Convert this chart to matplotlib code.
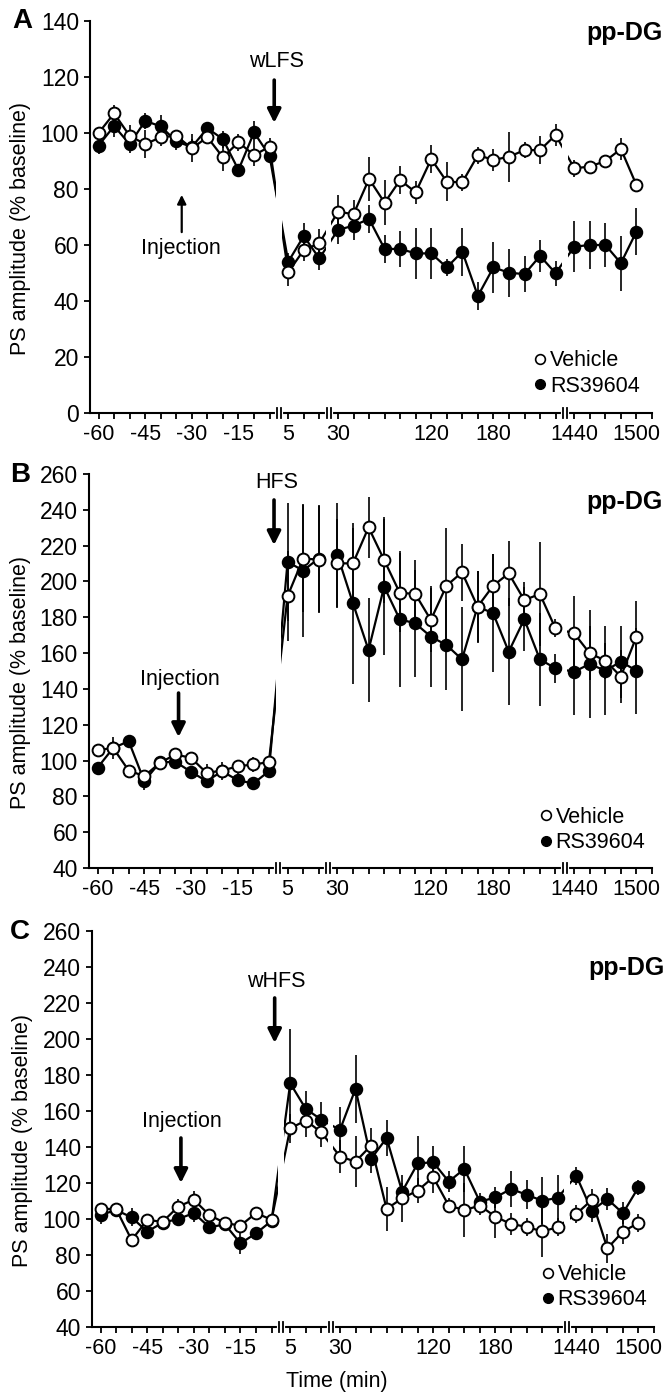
#!/usr/bin/env python3
"""PS amplitude time courses (pp-DG), three stimulation protocols, broken time axis."""
import matplotlib
matplotlib.use("Agg")
import matplotlib.pyplot as plt
import matplotlib.transforms as mtransforms
import numpy as np
from matplotlib.lines import Line2D

plt.rcParams.update({"font.family": ["Liberation Sans", "DejaVu Sans"],
                     "font.size": 15.5})

# sampling times (min)
TIMES = [-60, -55, -50, -45, -40, -35, -30, -25, -20, -15, -10, -5,
         5, 10, 15,
         30, 45, 60, 75, 90, 105, 120, 135, 150, 165, 180, 195, 210, 225, 240,
         1440, 1455, 1470, 1485, 1500]

TICK_LABELS = {-60: "-60", -45: "-45", -30: "-30", -15: "-15", 5: "5",
               30: "30", 120: "120", 180: "180", 1440: "1440", 1500: "1500"}

# panel A: wLFS
VEH_A = [100, 107, 99, 96, 98.5, 99, 94.5, 98.5, 91.3, 96.7, 92.1, 95.1,
         50.3, 58.2, 60.6,
         71.9, 71, 83.6, 75.1, 83.2, 78.8, 90.7, 82.6, 82.4, 92.1, 90.4, 91.5,
         93.9, 93.9, 99.3,
         87.4, 88, 90, 94.3, 81.4]
VEH_A_ERR = [2, 3, 4, 5, 3, 2, 5, 2, 5, 3, 4, 3,
             5, 4, 5,
             6, 5, 8, 8, 5, 4, 5, 7, 3, 3, 4, 9, 3, 5, 4,
             3, 2, 2, 4, 1.5]
RS_A = [95.5, 102.5, 96, 104.3, 102.4, 97, 95, 101.7, 97.8, 86.8, 100.2, 91.9,
        54, 63.2, 55.2,
        65.4, 66.9, 69.3, 58.6, 58.6, 57, 57, 52, 57.6, 41.8, 52, 50.1, 49.6,
        56.1, 49.9,
        59.4, 60, 60, 53.5, 64.8]
RS_A_ERR = [3, 4, 3, 3, 4, 3, 3, 2, 3, 2, 4, 2,
            3, 4.5, 4,
            5, 5, 5, 5, 6.5, 9, 9, 3, 8.6, 5, 9, 8.6, 6.5, 5.6, 4.5,
            9, 8.6, 7.7, 9.8, 8.3]

# panel B: HFS
VEH_B = [105.8, 107, 94.4, 91.3, 98.7, 103.4, 101.5, 93.1, 94.4, 96.8, 97.8,
         99.1,
         191.8, 212.8, 212.2,
         210.1, 210.1, 230.2, 212, 193.7, 193, 178.5, 197.6, 205.1, 185.9,
         197.6, 204.5, 189.6, 193, 173.8,
         171, 159.9, 155.8, 146.9, 169.2]
VEH_B_ERR = [2, 6, 3, 3, 2, 2, 2, 5, 5, 3, 4, 3,
             25, 30, 30,
             25, 20, 17, 24, 22, 19, 18, 32, 16, 20, 18, 18, 10, 29, 5,
             21, 15, 10, 15, 20]
RS_B = [96, 107, 110.8, 88.5, 99, 99.3, 93.7, 88.5, 94, 89, 87.2, 94,
        210.9, 206.1, 212.8,
        214.8, 187.8, 161.7, 197.1, 178.9, 176.6, 169.2, 164.5, 156.5, 186,
        182.2, 160.8, 178.9, 156.5, 151.5,
        149.6, 153.9, 150.2, 155.2, 150.2]
RS_B_ERR = [2, 4, 3, 5, 2, 2, 2, 4, 3, 4, 2, 2,
            33, 37, 30,
            29, 45, 29, 38, 38, 30, 28, 25, 29, 20, 33, 30, 18, 26, 8,
            24, 30, 25, 20, 24]

# panel C: wHFS
VEH_C = [105.6, 105.6, 88.3, 99.4, 98.5, 106.9, 110.7, 102.2, 97.8, 96.3,
         103.3, 99.6,
         150.4, 154.7, 148.2,
         134.7, 131.9, 140.8, 105.6, 111.5, 115.8, 123.2, 107.4, 105, 107.4,
         101.3, 97.2, 95.7, 93.1, 95.4,
         102.8, 110.6, 83.7, 93, 97.8]
VEH_C_ERR = [3, 3, 3, 3, 2, 4, 5, 3, 2, 3, 3, 3,
             8, 9, 8,
             9, 14, 10, 12, 13, 7, 9, 4, 15, 5, 12, 6, 5, 14, 5,
             5, 6, 8, 7, 5]
RS_C = [102.2, 105, 100.9, 93, 98, 100, 103.3, 95.4, 97, 86.5, 92, 99,
        175.4, 161.2, 155.2,
        149.5, 172.3, 133.4, 145, 115.2, 130.9, 131.5, 120.8, 127.8, 109.6,
        112, 116.7, 113.5, 110.2, 111.7,
        124.1, 104.6, 111.1, 103.2, 117.6]
RS_C_ERR = [5, 4, 5, 4, 3, 4, 5, 3, 3, 6, 3, 3,
            30, 10, 10,
            13, 19, 8, 10, 5, 15, 9, 6, 13, 5, 6, 10, 8, 13, 13,
            5, 6, 6, 6, 4]

W, H = 668, 1394
BREAKS = [11.6, 14.8, 30.0]


def slot(t):
    """Map minutes onto the broken axis (one slot per sample)."""
    if t < 0:
        return (t + 60) / 5
    if t < 30:
        return 12.2 + (t - 5) / 5
    if t < 1440:
        return 15.4 + (t - 30) / 15
    return 30.6 + (t - 1440) / 15


def px_axes(fig, left, top, right, bottom):
    return fig.add_axes([left / W, 1 - bottom / H, (right - left) / W,
                         (bottom - top) / H])


def panel(ax, veh, veh_err, rs, rs_err, ylim, yticks):
    x = np.array([slot(t) for t in TIMES])
    for y, e in ((rs, rs_err), (veh, veh_err)):
        ax.errorbar(x, y, yerr=e, fmt="none", ecolor="k", elinewidth=1.2,
                    capsize=0, zorder=1.8)
    for y in (rs, veh):
        ax.plot(x, y, "-", color="k", lw=1.6, zorder=2)
    for b in BREAKS:
        ax.axvspan(b - 0.17, b + 0.17, color="white", lw=0, zorder=2.2)
    ax.plot(x, rs, "o", ms=8.5, mfc="k", mec="k", mew=1.2, zorder=3)
    ax.plot(x, veh, "o", ms=8.5, mfc="white", mec="k", mew=1.4, zorder=3.1)

    ticks = list(np.arange(-60, 0, 5)) + list(np.arange(5, 20, 5)) + \
        list(np.arange(30, 255, 15)) + list(np.arange(1440, 1530, 15))
    ax.set_xticks([slot(t) for t in ticks])
    ax.set_xticklabels([TICK_LABELS.get(int(t), "") for t in ticks])
    ax.set_xlim(-0.55, slot(1515))
    ax.set_ylim(*ylim)
    ax.set_yticks(yticks)
    for s in ("top", "right"):
        ax.spines[s].set_visible(False)
    for s in ("left", "bottom"):
        ax.spines[s].set_linewidth(1.5)
    ax.tick_params(direction="out", length=4.5, width=1.3, pad=3.5,
                   labelsize=15.5)
    ax.tick_params(axis="y", labelsize=16.5)

    trans = mtransforms.blended_transform_factory(ax.transData, ax.transAxes)
    for b in BREAKS:
        ax.plot([b - 0.13, b + 0.13], [0, 0], color="white", lw=3,
                transform=trans, clip_on=False, zorder=4)
        for dx in (-0.13, 0.13):
            ax.plot([b + dx, b + dx], [-0.013, 0.013], color="k", lw=1.3,
                    transform=trans, clip_on=False, zorder=4.1)
    ax.set_ylabel("PS amplitude (% baseline)", fontsize=15.5)


def arrow(ax, x, y0, y1, lw, ms):
    ax.annotate("", xy=(x, y1), xytext=(x, y0),
                arrowprops=dict(arrowstyle="-|>", lw=lw, color="k",
                                mutation_scale=ms, shrinkA=0, shrinkB=0),
                zorder=5)


def legend(ax, x, y):
    handles = [Line2D([], [], ls="none", marker="o", ms=7, mfc="white",
                      mec="k", mew=1.2),
               Line2D([], [], ls="none", marker="o", ms=7, mfc="k", mec="k")]
    ax.legend(handles, ["Vehicle", "RS39604"], loc="upper left",
              bbox_to_anchor=(x, y), frameon=False, borderpad=0,
              borderaxespad=0, handlelength=0.6, handletextpad=0.15,
              labelspacing=0.2, fontsize=15.5)


fig = plt.figure(figsize=(W / 100, H / 100), dpi=100)

# A
ax = px_axes(fig, 90, 21, 652, 413)
panel(ax, VEH_A, VEH_A_ERR, RS_A, RS_A_ERR, (0, 140), range(0, 141, 20))
ax.text(11.45, 125.7, "wLFS", ha="center", va="center")
arrow(ax, 11.3, 118.9, 103.6, 2.6, 20)
ax.text(5.3, 58.9, "Injection", ha="center", va="center")
arrow(ax, 5.35, 64.6, 77.9, 1.6, 13)
ax.text(1.018, 0.969, "pp-DG", transform=ax.transAxes, ha="right",
        va="center", fontsize=18, fontweight="bold")
ax.yaxis.set_label_coords(-0.105, 0.47)
legend(ax, 0.79, 0.16)
fig.text(22 / W, 1 - 21 / H, "A", ha="center", va="center", fontsize=20,
         fontweight="bold")

# B
ax = px_axes(fig, 89, 474, 652, 868)
panel(ax, VEH_B, VEH_B_ERR, RS_B, RS_B_ERR, (40, 260), range(40, 261, 20))
ax.text(11.5, 255, "HFS", ha="center", va="center")
arrow(ax, 11.33, 245.5, 220.3, 2.6, 20)
ax.text(5.3, 145, "Injection", ha="center", va="center")
arrow(ax, 5.2, 137.7, 113.1, 2.6, 20)
ax.text(1.018, 0.929, "pp-DG", transform=ax.transAxes, ha="right",
        va="center", fontsize=18, fontweight="bold")
ax.yaxis.set_label_coords(-0.103, 0.47)
legend(ax, 0.80, 0.155)
fig.text(20 / W, 1 - 475 / H, "B", ha="center", va="center", fontsize=20,
         fontweight="bold")

# C
ax = px_axes(fig, 92, 931, 654, 1327)
panel(ax, VEH_C, VEH_C_ERR, RS_C, RS_C_ERR, (40, 260), range(40, 261, 20))
ax.text(11.33, 231.7, "wHFS", ha="center", va="center")
arrow(ax, 11.2, 222.8, 197.8, 2.6, 20)
ax.text(5.23, 153.9, "Injection", ha="center", va="center")
arrow(ax, 5.17, 145, 120, 2.6, 20)
ax.text(1.018, 0.907, "pp-DG", transform=ax.transAxes, ha="right",
        va="center", fontsize=18, fontweight="bold")
ax.yaxis.set_label_coords(-0.105, 0.47)
ax.set_xlabel("Time (min)", fontsize=15.5)
ax.xaxis.set_label_coords(0.436, -0.111)
legend(ax, 0.80, 0.159)
fig.text(20 / W, 1 - 932 / H, "C", ha="center", va="center", fontsize=20,
         fontweight="bold")

fig.savefig("out.png", dpi=100)
plt.close(fig)
